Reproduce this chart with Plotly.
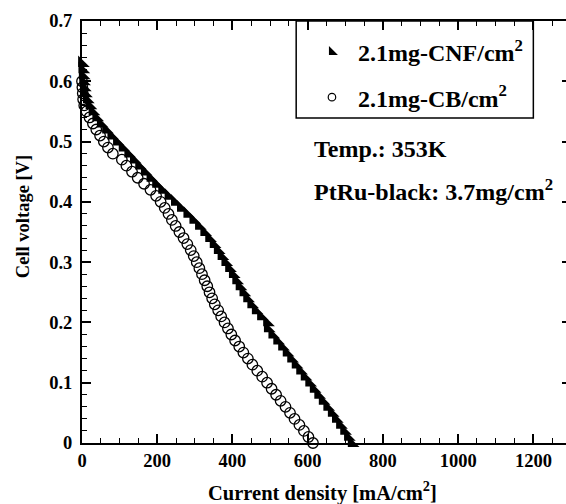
import plotly.graph_objects as go

# CNF series (filled triangles): cell voltage [V] and current density [mA/cm2]
cnf_v = [0.63, 0.62, 0.61, 0.60, 0.59, 0.58, 0.57, 0.56, 0.55, 0.54, 0.53, 0.52, 0.51,
         0.50, 0.49, 0.48, 0.47, 0.46, 0.45, 0.44, 0.43, 0.42, 0.41, 0.40, 0.39, 0.38,
         0.37, 0.36, 0.35, 0.34, 0.33, 0.32, 0.31, 0.30, 0.29, 0.28, 0.27, 0.26, 0.25,
         0.24, 0.23, 0.22, 0.21, 0.20, 0.19, 0.18, 0.17, 0.16, 0.15, 0.14, 0.13, 0.12,
         0.11, 0.10, 0.09, 0.08, 0.07, 0.06, 0.05, 0.04, 0.03, 0.02, 0.01, 0.00]
cnf_i = [0, 1, 2, 3, 5, 8, 13, 20, 28, 38, 50, 64, 78,
         93, 108, 123, 138, 152, 167, 182, 197, 213, 230, 247, 263, 280,
         296, 311, 325, 338, 350, 361, 371, 381, 391, 401, 410, 419, 429,
         439, 450, 462, 476, 492, 494, 506, 519, 532, 544, 556, 568, 580,
         592, 604, 616, 628, 640, 652, 664, 675, 686, 697, 707, 717]

# CB series (open circles)
cb_v = [0.60, 0.59, 0.58, 0.57, 0.56, 0.55, 0.54, 0.53, 0.52, 0.51, 0.50, 0.49, 0.48,
        0.47, 0.46, 0.45, 0.44, 0.43, 0.42, 0.41, 0.40, 0.39, 0.38, 0.37, 0.36, 0.35,
        0.34, 0.33, 0.32, 0.31, 0.30, 0.29, 0.28, 0.27, 0.26, 0.25, 0.24, 0.23, 0.22,
        0.21, 0.20, 0.19, 0.18, 0.17, 0.16, 0.15, 0.14, 0.13, 0.12, 0.11, 0.10, 0.09,
        0.08, 0.07, 0.06, 0.05, 0.04, 0.03, 0.02, 0.01, 0.00]
cb_i = [0, 1, 2, 3, 6, 12, 20, 29, 38, 48, 58, 69, 82,
        106, 118, 133, 148, 165, 182, 197, 209, 220, 230, 239, 249, 259,
        270, 280, 289, 297, 305, 312, 319, 326, 333, 339, 346, 353, 362,
        370, 379, 388, 397, 407, 418, 429, 441, 453, 466, 479, 492, 504,
        516, 528, 541, 553, 565, 578, 590, 602, 614]

series_names = ["2.1mg-CNF/cm<sup>2</sup>", "2.1mg-CB/cm<sup>2</sup>"]

x_ticks = [0, 200, 400, 600, 800, 1000, 1200]
y_ticks = [0, 0.1, 0.2, 0.3, 0.4, 0.5, 0.6, 0.7]
y_tick_text = ["0", "0.1", "0.2", "0.3", "0.4", "0.5", "0.6", "0.7"]

FONT = "Liberation Serif"

fig = go.Figure()
# data traces
fig.add_trace(go.Scatter(
    x=cnf_i, y=cnf_v, mode="markers", name=series_names[0], showlegend=False,
    marker=dict(symbol="triangle-sw", size=13, color="black", line=dict(width=0)),
    cliponaxis=False))
fig.add_trace(go.Scatter(
    x=cb_i, y=cb_v, mode="markers", name=series_names[1], showlegend=False,
    marker=dict(symbol="circle-open", size=10.5, color="black", line=dict(width=1.3, color="black")),
    cliponaxis=False))
# legend entries (smaller legend symbols as in the reference)
fig.add_trace(go.Scatter(
    x=[None], y=[None], mode="markers", name=series_names[0], legendgroup="a",
    marker=dict(symbol="triangle-sw", size=10, color="black", line=dict(width=0))))
fig.add_trace(go.Scatter(
    x=[None], y=[None], mode="markers", name=series_names[1], legendgroup="b",
    marker=dict(symbol="circle-open", size=7.5, color="black", line=dict(width=1.2, color="black"))))

axis_common = dict(
    showgrid=False, zeroline=False, showline=True, linecolor="black", linewidth=2,
    mirror="ticks", ticks="inside", ticklen=9, tickwidth=1.5, tickcolor="black",
    tickfont=dict(family=FONT, size=18.5, color="black", weight="bold"),
)

fig.update_xaxes(range=[0, 1300], tickvals=x_ticks,
                 minor=dict(dtick=50, ticks="inside", ticklen=5, tickwidth=1.2, tickcolor="black"),
                 **axis_common)
fig.update_yaxes(range=[0, 0.7], tickvals=y_ticks, ticktext=y_tick_text,
                 ticklabelstandoff=4,
                 minor=dict(dtick=0.02, ticks="inside", ticklen=5, tickwidth=1.2, tickcolor="black"),
                 **axis_common)

fig.update_layout(
    width=576, height=504,
    margin=dict(l=82, r=3, t=21, b=61),
    paper_bgcolor="white", plot_bgcolor="white",
    showlegend=True,
    legend=dict(x=0.458, y=0.979, xanchor="left", yanchor="top",
                bgcolor="rgba(0,0,0,0)", borderwidth=0,
                itemwidth=42, tracegroupgap=11,
                font=dict(family=FONT, size=24, color="black", weight="bold")),
    shapes=[dict(type="rect", xref="paper", yref="paper",
                 x0=0.438, x1=0.923, y0=0.770, y1=1.0,
                 line=dict(color="black", width=1.5), fillcolor="rgba(0,0,0,0)")],
    annotations=[
        dict(text="Temp.: 353K", xref="paper", yref="paper", x=0.470, y=0.697,
             xanchor="left", yanchor="middle", showarrow=False,
             font=dict(family=FONT, size=24, color="black", weight="bold")),
        dict(text="PtRu-black: 3.7mg/cm<sup>2</sup>", xref="paper", yref="paper", x=0.470, y=0.60,
             xanchor="left", yanchor="middle", showarrow=False,
             font=dict(family=FONT, size=24, color="black", weight="bold")),
        dict(text="Current density [mA/cm<sup>2</sup>]", xref="paper", yref="paper",
             x=0.491, y=-0.116, xanchor="center", yanchor="middle", showarrow=False,
             font=dict(family=FONT, size=20.5, color="black", weight="bold")),
        dict(text="Cell voltage [V]", xref="paper", yref="paper", textangle=-90,
             x=-0.122, y=0.536, xanchor="center", yanchor="middle", showarrow=False,
             font=dict(family=FONT, size=18.5, color="black", weight="bold")),
    ],
)

fig.write_html("out.html", config={"displayModeBar": False}, post_script=(
    "document.documentElement.style.overflow='hidden';"
    "document.body.style.overflow='hidden';"
    "document.body.style.margin='0';"))
